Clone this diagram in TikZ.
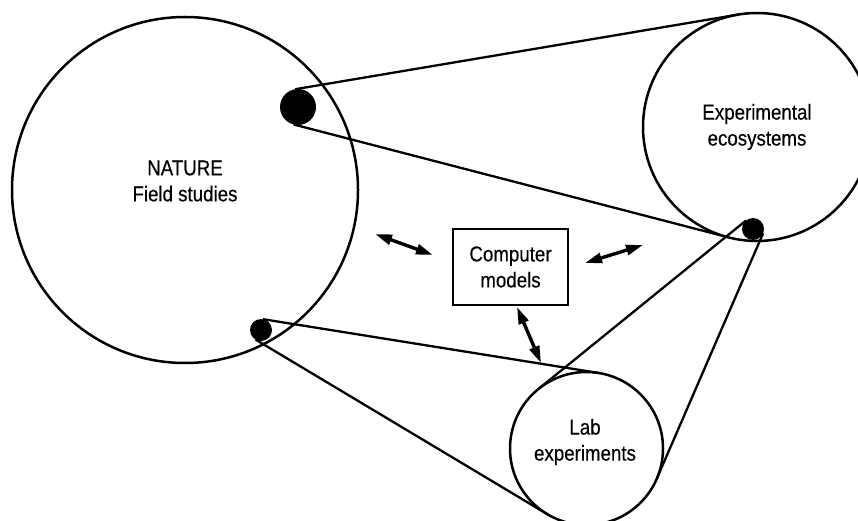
\documentclass[tikz,border=0pt]{standalone}
\usepackage{fontspec}
\setmainfont{Liberation Sans}[FakeStretch=0.87,FakeBold=0.3]
\usetikzlibrary{arrows.meta}
\begin{document}
\begin{tikzpicture}[x=1pt,y=-1pt,
  ring/.style={circle,draw,line width=2.5pt,inner sep=0pt,outer sep=0pt,minimum size=#1},
  blob/.style={circle,fill=black,inner sep=0pt,outer sep=0pt,minimum size=#1},
  lbl/.style={align=center,inner sep=0pt,font=\fontsize{21.5}{26}\selectfont},
  tie/.style={line width=2.3pt},
  dbl/.style={line width=3.4pt,{Triangle[length=17pt,width=10pt]}-{Triangle[length=17pt,width=10pt]}}]
\useasboundingbox (0,0) rectangle (858,521);
\clip (0,0) rectangle (858,521);
\fill[white] (0,0) rectangle (858,521);
% circles
\node[ring=346pt] (nature) at (185,190) {};
\node[ring=228pt] (eco) at (757,127) {};
\node[ring=153pt] (lab) at (586.5,448.5) {};
\node[draw,line width=2.3pt,minimum width=115pt,minimum height=76pt,inner sep=0pt] (comp) at (510.5,267) {};
% texts
\node[lbl] (naturetext) at (185,181) {NATURE\\Field studies};
\node[lbl] (ecotext) at (757,127) {Experimental\\ecosystems};
\node[lbl] (labtext) at (585,442) {Lab\\experiments};
\node[lbl] (comptext) at (510.5,267) {Computer\\models};
% dots
\node[blob=36pt] (d1) at (298,107) {};
\node[blob=22pt] (d2) at (261,330) {};
\node[blob=22pt] (d3) at (753,229) {};
% tangent lines
\draw[tie] (d1.99.56) -- (eco.99.56);
\draw[tie] (d1.-104.55) -- (eco.-104.55);
\draw[tie] (d3.129.07) -- (lab.129.07);
\draw[tie] (d3.-23.43) -- (lab.-23.43);
\draw[tie] (d2.80.9) -- (lab.80.9);
\draw[tie] (d2.-120.9) -- (lab.-120.9);
% arrows
\coordinate (a1s) at (375,234);
\coordinate (a1e) at (433,255);
\coordinate (a2s) at (585,263);
\coordinate (a2e) at (643,245);
\coordinate (a3s) at (517,307);
\coordinate (a3e) at (541,363);
\draw[dbl] (a1s) -- (a1e);
\draw[dbl] (a2s) -- (a2e);
\draw[dbl] (a3s) -- (a3e);
\end{tikzpicture}
\end{document}
